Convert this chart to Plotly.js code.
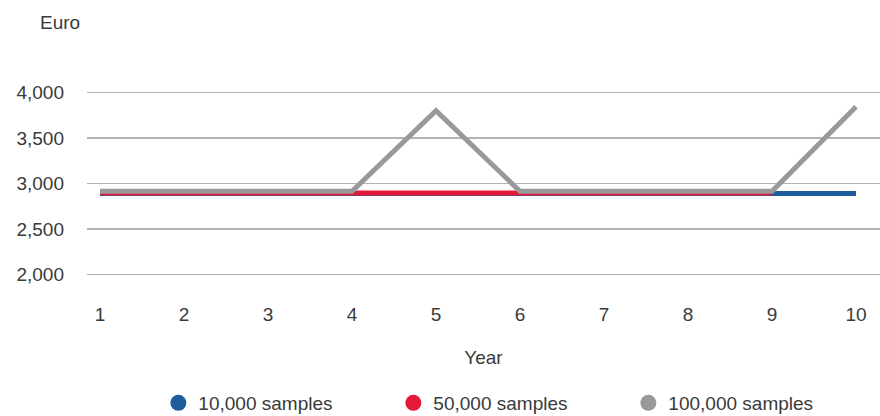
<!DOCTYPE html>
<html><head><meta charset="utf-8">
<script src="https://cdn.plot.ly/plotly-3.0.1.min.js"></script>
<style>body{margin:0;background:#fff}#c{width:880px;height:416px}</style>
</head><body><div id="c"></div>
<script>
const years = [1,2,3,4,5,6,7,8,9,10];
const s10k = [2890,2890,2890,2890,2890,2890,2890,2890,2890,2890];
const s50k = [2895,2895,2895,2895,2895,2895,2895,2895,2895];
const s100k = [2915,2915,2915,2915,3800,2915,2915,2915,2915,3845];
const names = ['10,000 samples','50,000 samples','100,000 samples'];
const colors = ['#1f5c9b','#e31937','#98999b'];
const yTicks = [2000,2500,3000,3500,4000];
const yTickText = ['2,000','2,500','3,000','3,500','4,000'];

const series = [s10k, s50k, s100k];
const traces = [];
series.forEach((s,i)=>{
  traces.push({x: years.slice(0,s.length), y: s, type:'scatter', mode:'lines',
    line:{color:colors[i], width:5}, showlegend:false, hoverinfo:'skip'});
});
series.forEach((s,i)=>{
  traces.push({x:[null], y:[null], type:'scatter', mode:'markers', name:names[i],
    marker:{color:colors[i], size:18, symbol:'circle'}});
});

const fc = '#3a3a3a';
const fs = 19;
const layout = {
  width:880, height:416,
  margin:{l:87, r:0, t:79.4, b:128.4, autoexpand:false},
  paper_bgcolor:'#fff', plot_bgcolor:'#fff',
  font:{family:'Liberation Sans, Arial, sans-serif', color:fc, size:fs},
  showlegend:true,
  xaxis:{range:[1-13/84, 10+24/84], tickvals:years, ticktext:years.map(String), automargin:false,
    showgrid:false, zeroline:false, showline:false, ticks:'', tickfont:{size:fs,color:fc},
    ticklabelstandoff:13,
    title:{text:'Year', font:{size:fs,color:fc}, standoff:26}},
  yaxis:{range:[1850,4150], tickvals:yTicks, ticktext:yTickText, showgrid:true, automargin:false,
    gridcolor:'#b3b3b3', gridwidth:1.5, zeroline:false, showline:false, ticks:'',
    ticklabelstandoff:22, tickfont:{size:fs,color:fc}},
  legend:{orientation:'h', x:0.09, xanchor:'left', y:-0.55, yanchor:'middle',
    entrywidth:190, entrywidthmode:'pixels',
    font:{size:fs,color:fc}, itemclick:false},
  annotations:[{text:'Euro', xref:'paper', yref:'paper', x:-0.062, y:1.0, xanchor:'left',
    yanchor:'middle', yshift:57, showarrow:false, font:{size:fs,color:fc}}]
};
Plotly.newPlot('c', traces, layout, {displayModeBar:false, staticPlot:true});
</script></body></html>
